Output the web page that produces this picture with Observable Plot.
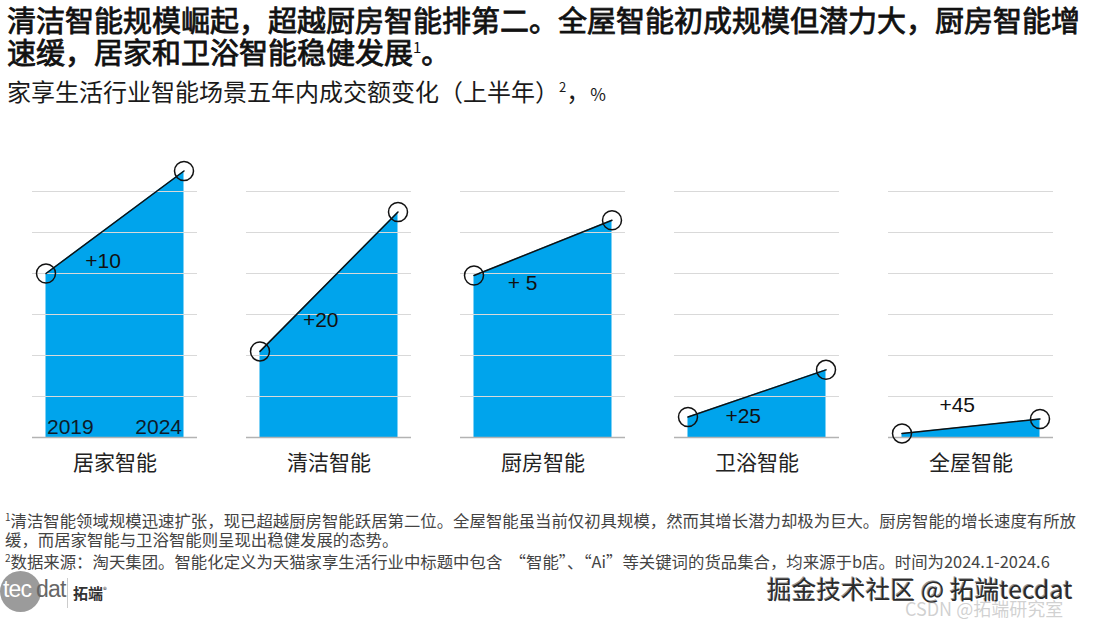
<!DOCTYPE html>
<html>
<head>
<meta charset="utf-8">
<script src="https://cdn.jsdelivr.net/npm/d3@7"></script>
<script src="https://cdn.jsdelivr.net/npm/@observablehq/plot@0.6"></script>
<style>
  html, body { margin: 0; padding: 0; background: #fff; }
  body { width: 1098px; height: 623px; position: relative; overflow: hidden;
         font-family: "Noto Sans CJK SC", "Noto Sans", sans-serif; color: #111; }
  .abs { position: absolute; white-space: nowrap; }
  .title { left: 7px; font-size: 29px; line-height: 31px; font-weight: 400; color: #111; -webkit-text-stroke: 0.8px #111; }
  .title sup { font-size: 15px; font-weight: 400; vertical-align: 0; position: relative; top: -11px; line-height: 0; -webkit-text-stroke: 0; }
  #subtitle { left: 7px; top: 77px; font-size: 24px; line-height: 28px; color: #1a1a1a; }
  #subtitle sup { font-size: 13px; position: relative; top: -9px; vertical-align: 0; line-height: 0; }
  #subtitle .pct { font-size: 17px; }
  #chart { left: 0; top: 120px; }
  .note { left: 5px; font-size: 16.4px; line-height: 19px; color: #444; }
  .note sup { font-size: 10px; position: relative; top: -6px; vertical-align: 0; line-height: 0; }
  #logo { left: 0; top: 570px; width: 200px; height: 45px; }
  #logo .circ { position: absolute; left: 0; top: 1px; width: 41px; height: 41px; border-radius: 50%; background: #9b9b9b; }
  #logo .tec { position: absolute; left: 3px; top: 6px; font-family: "Liberation Sans", Arial, sans-serif; font-size: 23px; color: #fff; letter-spacing: -0.8px; }
  #logo .dat { position: absolute; left: 36px; top: 6px; font-family: "Liberation Sans", Arial, sans-serif; font-size: 23px; color: #666; letter-spacing: -0.8px; }
  #logo .div { position: absolute; left: 67px; top: 8px; width: 1px; height: 30px; background: #ccc; }
  #logo .tuo { position: absolute; left: 73px; top: 12px; font-size: 15px; font-weight: 700; color: #333; }
  #logo .tuo sup { font-size: 8px; font-weight: 400; }
  #wm1 { left: 767px; top: 574px; font-size: 24.5px; line-height: 30px; color: #2a2a2a; text-shadow: 1px 1px 0 #fff, -1px -1px 0 #999; letter-spacing: 0.2px; }
  #wm2 { left: 905px; top: 597px; font-size: 18px; line-height: 22px; color: rgba(170,170,170,0.55); }
</style>
</head>
<body>
<div class="abs title" style="top:4px">清洁智能规模崛起，超越厨房智能排第二。全屋智能初成规模但潜力大，厨房智能增</div>
<div class="abs title" style="top:36px">速缓，居家和卫浴智能稳健发展<sup>1</sup>。</div>
<div id="subtitle" class="abs">家享生活行业智能场景五年内成交额变化（上半年）<sup>2</sup>，<span class="pct">%</span></div>
<div id="chart" class="abs"></div>
<div class="abs note" style="top:511px"><sup>1</sup>清洁智能领域规模迅速扩张，现已超越厨房智能跃居第二位。全屋智能虽当前仅初具规模，然而其增长潜力却极为巨大。厨房智能的增长速度有所放</div>
<div class="abs note" style="top:530px">缓，而居家智能与卫浴智能则呈现出稳健发展的态势。</div>
<div class="abs note" style="top:552px"><sup>2</sup>数据来源：淘天集团。智能化定义为天猫家享生活行业中标题中包含 &nbsp;“智能”、“Ai”等关键词的货品集合，均来源于b店。时间为2024.1-2024.6</div>
<div id="logo" class="abs"><div class="circ"></div><span class="tec">tec</span><span class="dat">dat</span><div class="div"></div><span class="tuo">拓端<sup>®</sup></span></div>
<div id="wm1" class="abs">掘金技术社区 @ 拓端tecdat</div>
<div id="wm2" class="abs">CSDN @拓端研究室</div>
<script>
// ---- data ----
const categories = ["居家智能", "清洁智能", "厨房智能", "卫浴智能", "全屋智能"];
const years = [2019, 2024];
const value2019 = [40, 21, 39.5, 5, 1];
const value2024 = [65, 55, 53, 16.5, 4.5];
const growthLabels = ["+10", "+20", "+ 5", "+25", "+45"];
const labelYear = [2021.07, 2021.2, 2020.76, 2021.0, 2021.0];
const labelValue = [43, 28.5, 37.5, 5.1, 7.8];
const gridTicks = [10, 20, 30, 40, 50, 60];

const data = categories.flatMap((c, i) => [
  {category: c, year: years[0], value: value2019[i]},
  {category: c, year: years[1], value: value2024[i]}
]);
const labels = categories.map((c, i) => ({category: c, year: labelYear[i], value: labelValue[i], text: growthLabels[i]}));
const yearStart = [{category: categories[0], year: years[0], text: String(years[0])}];
const yearEnd = [{category: categories[0], year: years[1], text: String(years[1])}];

const latin = "'Liberation Sans', Arial, sans-serif";

const chart = Plot.plot({
  width: 1098,
  height: 370,
  marginLeft: 32,
  marginRight: 45,
  marginTop: 71,
  marginBottom: 53,
  style: {fontFamily: "'Noto Sans CJK SC', sans-serif", background: "transparent"},
  fx: {domain: categories, paddingInner: 0.229, paddingOuter: 0, label: null, axis: null},
  x: {domain: [2019, 2024], insetLeft: 13.5, insetRight: 13.5, axis: null},
  y: {domain: [0, 60], axis: null},
  marks: [
    Plot.areaY(data, {fx: "category", x: "year", y: "value", fill: "#00a4ec"}),
    Plot.ruleY(gridTicks, {stroke: "#d9d9d9", strokeWidth: 1.2}),
    Plot.ruleY([0], {stroke: "#b3b3b3", strokeWidth: 1.5}),
    Plot.line(data, {fx: "category", x: "year", y: "value", stroke: "#111", strokeWidth: 1.5}),
    Plot.dot(data, {fx: "category", x: "year", y: "value", r: 9.5, stroke: "#111", strokeWidth: 1.5, fill: "none"}),
    Plot.text(labels, {fx: "category", x: "year", y: "value", text: "text", fontSize: 21, fontFamily: latin, fill: "#111"}),
    Plot.text(yearStart, {fx: "category", x: "year", y: 0, text: "text", textAnchor: "start", dx: 1, dy: -10, fontSize: 21, fontFamily: latin, fill: "#0d1b2a"}),
    Plot.text(yearEnd, {fx: "category", x: "year", y: 0, text: "text", textAnchor: "end", dx: -2, dy: -10, fontSize: 21, fontFamily: latin, fill: "#0d1b2a"}),
    Plot.axisFx({anchor: "bottom", tickSize: 0, tickPadding: 18, fontSize: 21, label: null, fill: "#222"})
  ]
});
document.getElementById("chart").appendChild(chart);
</script>
</body>
</html>
